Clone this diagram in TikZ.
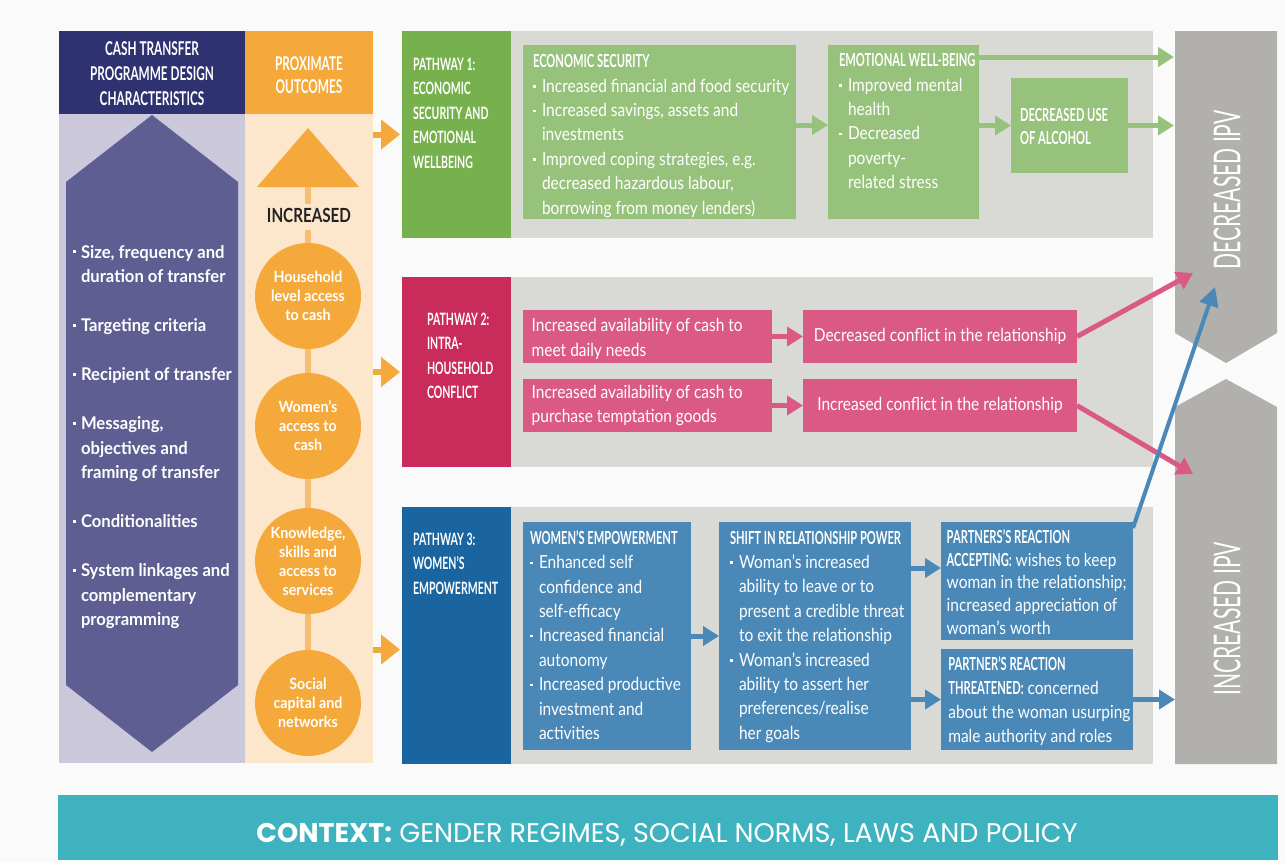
\documentclass[tikz,border=0pt]{standalone}
\usepackage{fontspec}
\setmainfont{Lato}
\newfontfamily\bodyf{Lato}[FakeStretch=0.86]
\newfontfamily\headf{Lato}[FakeStretch=0.62]
\newfontfamily\itemf{Lato}[FakeStretch=0.95]
\newfontfamily\circf{Lato}[FakeStretch=0.92]
\newfontfamily\incf{Lato}[FakeStretch=0.78]
\newfontfamily\ipvf{Lato}[FakeStretch=0.57]
\newfontfamily\ctxf{Poppins}
\usetikzlibrary{arrows.meta,calc}
\definecolor{bgc}{HTML}{FAFAFA}
\definecolor{navy}{HTML}{2E3270}
\definecolor{lav}{HTML}{CBC8DB}
\definecolor{purp}{HTML}{5F5E92}
\definecolor{orng}{HTML}{F4A93A}
\definecolor{peach}{HTML}{FCE6CC}
\definecolor{stemc}{HTML}{F6BE72}
\definecolor{gdark}{HTML}{76B14D}
\definecolor{glight}{HTML}{97C27C}
\definecolor{panel}{HTML}{D9D9D6}
\definecolor{pdark}{HTML}{C92B5B}
\definecolor{plight}{HTML}{DB5A85}
\definecolor{bdark}{HTML}{1A64A0}
\definecolor{blight}{HTML}{4A88B8}
\definecolor{ipvc}{HTML}{B2B0AC}
\definecolor{tealc}{HTML}{3EB3BF}
\definecolor{darktxt}{HTML}{222222}
\newcommand\bul{\makebox[9pt][l]{\rule[4.5pt]{2.5pt}{2.5pt}}}
\newcommand\hin{\hspace*{9pt}}
\newcommand\lbul{\makebox[8pt][l]{\rule[5pt]{3pt}{3pt}}}
\newcommand\lhin{\hspace*{8pt}}
\newcommand\hb[1]{{\headf\bfseries #1}}
\begin{document}
\begin{tikzpicture}[x=1pt,y=-1pt,
  box/.style={fill=#1, draw=none, inner sep=0pt, outer sep=0pt, anchor=north west},
  txt/.style={inner sep=0pt, outer sep=0pt, anchor=base west, align=left, text=white},
  hdtxt/.style={txt, font={\headf\bfseries\fontsize{17}{24.5}\selectfont}},
  bodytxt/.style={txt, font={\bodyf\fontsize{18}{24.4}\selectfont}},
  circ/.style={circle, fill=orng, minimum size=106pt, inner sep=0pt, align=center, text=white, font={\circf\bfseries\fontsize{15.5}{19}\selectfont}},
  stemline/.style={draw=stemc, line width=6pt},
  oarrow/.style={draw=orng, line width=6pt, -{Triangle[width=29pt,length=19pt]}},
  garrow/.style={draw=glight, line width=5pt, -{Triangle[width=19pt,length=16pt]}},
  parrow/.style={draw=plight, line width=5pt, -{Triangle[width=19pt,length=16pt]}},
  barrow/.style={draw=blight, line width=5pt, -{Triangle[width=19pt,length=16pt]}},
  blong/.style={draw=blight, line width=4pt, -{Triangle[width=19pt,length=19pt]}},
  ipvtxt/.style={rotate=90, inner sep=0pt, text=white, font={\ipvf\fontsize{37}{40}\selectfont}}
]
\fill[bgc] (0,0) rectangle (1285,863);
\useasboundingbox (0,0) rectangle (1285,863);

% (multi-line text nodes are placed by the baseline of their LAST line)

% ---------- column A: design characteristics
\node[box=navy, minimum width=186pt, minimum height=83pt] (hdrA) at (59,31) {};
\node[box=lav, minimum width=186pt, minimum height=649pt] (colA) at (59,114) {};
\fill[purp] (152,115) -- (238,182) -- (238,685) -- (152,752) -- (66,685) -- (66,182) -- cycle;
\node[txt, anchor=base, align=center, font={\headf\bfseries\fontsize{19}{25}\selectfont}] (hdrAt) at (152,105) {CASH TRANSFER\\PROGRAMME DESIGN\\CHARACTERISTICS};
\node[txt, font={\itemf\bfseries\fontsize{17.5}{24.5}\selectfont}] (items) at (73,625.5)
 {\lbul Size, frequency and\\\lhin duration of transfer\\[24.5pt]
  \lbul Targeting criteria\\[24.5pt]
  \lbul Recipient of transfer\\[24.5pt]
  \lbul Messaging,\\\lhin objectives and\\\lhin framing of transfer\\[24.5pt]
  \lbul Conditionalities\\[24.5pt]
  \lbul System linkages and\\\lhin complementary\\\lhin programming};

% ---------- column B: proximate outcomes
\node[box=orng, minimum width=128pt, minimum height=83pt] (hdrB) at (245,31) {};
\node[box=peach, minimum width=128pt, minimum height=649pt] (colB) at (245,114) {};
\node[txt, anchor=base, align=center, font={\headf\bfseries\fontsize{19}{23.5}\selectfont}] (hdrBt) at (309,93.5) {PROXIMATE\\OUTCOMES};
\fill[orng] (308,128) -- (359,187) -- (257,187) -- cycle;
\coordinate (trib) at (308,187);
\node[anchor=base, inner sep=0pt, text=darktxt, font={\incf\bfseries\fontsize{19.5}{20}\selectfont}] (inct) at (309,222) {INCREASED};
\node[circ] (c1) at (308,296) {Household\\level access\\to cash};
\node[circ] (c2) at (308,426) {Women’s\\access to\\cash};
\node[circ] (c3) at (308,561) {Knowledge,\\skills and\\access to\\services};
\node[circ] (c4) at (308,703) {Social\\capital and\\networks};
\draw[stemline] (trib) -- ([yshift=4pt]inct.north -| trib);
\draw[stemline] ([yshift=-8pt]inct.south -| trib) -- (c1.north);
\draw[stemline] (c1.south) -- (c2.north);
\draw[stemline] (c2.south) -- (c3.north);
\draw[stemline] (c3.south) -- (c4.north);

% ---------- pathway 1
\node[box=gdark, minimum width=109pt, minimum height=207pt] (p1h) at (402,31) {};
\node[box=panel, minimum width=642pt, minimum height=207pt] (p1p) at (511,31) {};
\node[box=glight, minimum width=273pt, minimum height=174pt] (econ) at (523,45) {};
\node[box=glight, minimum width=151pt, minimum height=174pt] (emo) at (828,45) {};
\node[box=glight, minimum width=117pt, minimum height=95pt] (alc) at (1011,78) {};
\node[hdtxt] (p1t) at (413,168) {PATHWAY 1:\\ECONOMIC\\SECURITY AND\\EMOTIONAL\\WELLBEING};
\node[bodytxt] (econt) at (533,214.1) {\hb{ECONOMIC SECURITY}\\
 \bul Increased financial and food security\\
 \bul Increased savings, assets and\\
 \hin investments\\
 \bul Improved coping strategies, e.g.\\
 \hin decreased hazardous labour,\\
 \hin borrowing from money lenders)};
\node[bodytxt] (emot) at (839,188.7) {\hb{EMOTIONAL WELL-BEING}\\
 \bul Improved mental\\\hin health\\
 \bul Decreased\\\hin poverty-\\\hin related stress};
\node[txt, font={\headf\bfseries\fontsize{18}{22.6}\selectfont}] (alct) at (1020,144.3) {DECREASED USE\\OF ALCOHOL};

% ---------- pathway 2
\node[box=pdark, minimum width=109pt, minimum height=190pt] (p2h) at (402,277) {};
\node[box=panel, minimum width=642pt, minimum height=190pt] (p2p) at (511,277) {};
\node[box=plight, minimum width=249pt, minimum height=53pt] (pa) at (523,310) {};
\node[box=plight, minimum width=249pt, minimum height=53pt] (pb) at (523,379) {};
\node[box=plight, minimum width=274pt, minimum height=53pt, text=white, font={\bodyf\fontsize{18}{24.4}\selectfont}] (dec) at (803,310) {Decreased conflict in the relationship};
\node[box=plight, minimum width=274pt, minimum height=53pt, text=white, font={\bodyf\fontsize{18}{24.4}\selectfont}] (inc) at (803,379) {Increased conflict in the relationship};
\node[hdtxt] (p2t) at (427,398.5) {PATHWAY 2:\\INTRA-\\HOUSEHOLD\\CONFLICT};
\node[bodytxt] (pat) at (531.7,356.1) {Increased availability of cash to\\meet daily needs};
\node[bodytxt] (pbt) at (531.7,422.7) {Increased availability of cash to\\purchase temptation goods};

% ---------- pathway 3
\node[box=bdark, minimum width=109pt, minimum height=257pt] (p3h) at (402,507) {};
\node[box=panel, minimum width=642pt, minimum height=257pt] (p3p) at (511,507) {};
\node[box=blight, minimum width=168pt, minimum height=228pt] (wemp) at (523,522) {};
\node[box=blight, minimum width=192pt, minimum height=228pt] (shift) at (719,522) {};
\node[box=blight, minimum width=192pt, minimum height=118pt] (acc) at (941,522) {};
\node[box=blight, minimum width=192pt, minimum height=101pt] (thr) at (941,649) {};
\node[hdtxt] (p3t) at (413,594) {PATHWAY 3:\\WOMEN’S\\EMPOWERMENT};
\node[bodytxt] (wempt) at (530,739.5) {\hb{WOMEN’S EMPOWERMENT}\\
 \bul Enhanced self\\\hin confidence and\\\hin self-efficacy\\
 \bul Increased financial\\\hin autonomy\\
 \bul Increased productive\\\hin investment and\\\hin activities};
\node[bodytxt] (shiftt) at (730,739.2) {\hb{SHIFT IN RELATIONSHIP POWER}\\
 \bul Woman’s increased\\\hin ability to leave or to\\\hin present a credible threat\\\hin to exit the relationship\\
 \bul Woman’s increased\\\hin ability to assert her\\\hin preferences/realise\\\hin her goals};
\node[txt, font={\bodyf\fontsize{18}{22.7}\selectfont}] (acct) at (946.7,634.1) {\hb{PARTNERS’S REACTION}\\
 \hb{ACCEPTING:} wishes to keep\\woman in the relationship;\\increased appreciation of\\woman’s worth};
\node[txt, font={\bodyf\fontsize{18}{24}\selectfont}] (thrt) at (948.3,742.7) {\hb{PARTNER’S REACTION}\\
 \hb{THREATENED:} concerned\\about the woman usurping\\male authority and roles};

% ---------- IPV outcomes
\fill[ipvc] (1175,31) -- (1277,31) -- (1277,333) -- (1226,363) -- (1175,333) -- cycle;
\fill[ipvc] (1175,407) -- (1226,379) -- (1277,407) -- (1277,764) -- (1175,764) -- cycle;
\node[ipvtxt] (dipv) at (1227,190) {DECREASED IPV};
\node[ipvtxt] (iipv) at (1227,619) {INCREASED IPV};
\coordinate (dW) at (1174,0);
\coordinate (iW) at (1175,0);
\coordinate (dtipP) at (1193,273);
\coordinate (itipP) at (1193,474);
\coordinate (dtipB) at (1215,287);

% ---------- context
\node[box=tealc, minimum width=1220pt, minimum height=65pt] (ctx) at (58,795) {};
\node[anchor=base, inner sep=0pt, text=white, font={\ctxf\fontsize{27}{29}\selectfont}] (ctxt) at (667,842) {\textbf{CONTEXT:} GENDER REGIMES, SOCIAL NORMS, LAWS AND POLICY};

% ---------- connectors
\draw[oarrow] (colB.east |- p1h.west) -- ([xshift=-2pt]p1h.west);
\draw[oarrow] (colB.east |- p2h.west) -- ([xshift=-2pt]p2h.west);
\coordinate (o3) at ([yshift=-14pt]p3h.west);
\draw[oarrow] (colB.east |- o3) -- ([xshift=-2pt]o3);

\coordinate (g0) at ([yshift=7pt]econ.east);
\draw[garrow] (g0) -- (g0 -| emo.west);
\draw[garrow] (emo.east |- alc.west) -- (alc.west);
\draw[garrow] (alc.east) -- (alc.east -| dW);
\coordinate (g1) at ([yshift=-12pt]emo.north east);
\draw[garrow] (g1) -- (g1 -| dW);

\draw[parrow] (pa.east) -- (dec.west);
\draw[parrow] (pb.east) -- (inc.west);
\draw[parrow] (dec.east) -- (dtipP);
\draw[parrow] (inc.east) -- (itipP);

\draw[barrow] (wemp.east |- shift.west) -- (shift.west);
\coordinate (ba) at ([yshift=13pt]acc.west);
\draw[barrow] (shift.east |- ba) -- (ba);
\draw[barrow] (shift.east |- thr.west) -- (thr.west);
\draw[barrow] (thr.east) -- (thr.east -| iW);
\coordinate (bs) at ([yshift=-6pt]acc.north east);
\draw[blong] (bs) -- (dtipB);
\end{tikzpicture}
\end{document}
